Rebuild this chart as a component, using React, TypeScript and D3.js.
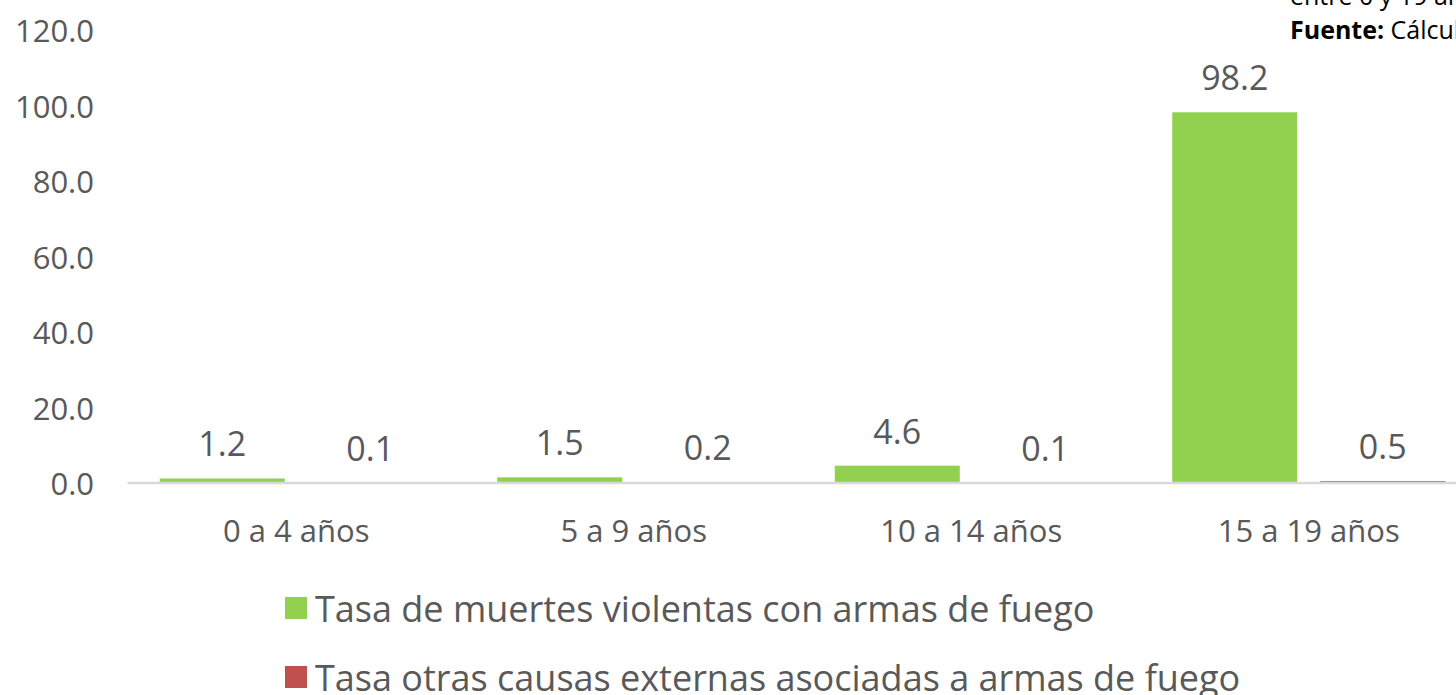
import { scaleBand, scaleLinear } from "d3";

const categories = ["0 a 4 años", "5 a 9 años", "10 a 14 años", "15 a 19 años"];
const seriesNames = [
  "Tasa de muertes violentas con armas de fuego",
  "Tasa otras causas externas asociadas a armas de fuego",
];
const firearmDeaths = [1.2, 1.5, 4.6, 98.2];
const otherCauses = [0.1, 0.2, 0.1, 0.5];
const yTicks = [0, 20, 40, 60, 80, 100, 120];

const colors = ["#92d050", "#c0504d"];
const textColor = "#595959";
const font = "'Open Sans', 'Noto Sans', sans-serif";

const WIDTH = 1456;
const HEIGHT = 695;
// plot area, chart runs off the right edge like the source
const PLOT = { left: 127.5, right: 1477.5, top: 30, bottom: 483 };

const App = () => {
  const series = [firearmDeaths, otherCauses];

  const xScale = scaleBand<string>()
    .domain(categories)
    .range([PLOT.left, PLOT.right])
    .padding(0);
  const innerScale = scaleBand<string>()
    .domain(["0", "1"])
    .range([0, xScale.bandwidth()])
    .paddingInner(0.155)
    .paddingOuter(0.218);
  const yScale = scaleLinear().domain([0, 120]).range([PLOT.bottom, PLOT.top]);

  return (
    <svg
      width={WIDTH}
      height={HEIGHT}
      style={{ position: "absolute", left: 0, top: 0, background: "#fff" }}
      fontFamily={font}
    >
      {/* source note, clipped at top/right */}
      <text x={1290} y={5} fontSize={25} fill="#000">
        entre 0 y 19 años
      </text>
      <text x={1290} y={39} fontSize={25} fill="#000">
        <tspan fontWeight="bold">Fuente:</tspan> Cálculos
      </text>

      {/* y axis labels */}
      {yTicks.map((t) => (
        <text
          key={t}
          x={94}
          y={yScale(t)}
          textAnchor="end"
          dominantBaseline="central"
          fontSize={31}
          fill={textColor}
        >
          {t.toFixed(1)}
        </text>
      ))}

      {/* bars + labels */}
      {series.map((vals, si) =>
        vals.map((v, ci) => {
          const x = (xScale(categories[ci]) ?? 0) + (innerScale(String(si)) ?? 0);
          const w = innerScale.bandwidth();
          const y = yScale(v);
          return (
            <g key={`${si}-${ci}`}>
              <rect
                x={x}
                y={y}
                width={w}
                height={yScale(0) - y}
                fill={colors[si]}
              />
              <text
                x={x + w / 2}
                y={y - 35}
                textAnchor="middle"
                dominantBaseline="central"
                fontSize={34}
                fill={textColor}
              >
                {v.toFixed(1)}
              </text>
            </g>
          );
        })
      )}

      {/* baseline drawn over the bars */}
      <line
        x1={PLOT.left}
        x2={WIDTH}
        y1={yScale(0)}
        y2={yScale(0)}
        stroke="#d9d9d9"
        strokeWidth={2.5}
      />

      {/* category labels */}
      {categories.map((c) => (
        <text
          key={c}
          x={(xScale(c) ?? 0) + xScale.bandwidth() / 2}
          y={530}
          textAnchor="middle"
          dominantBaseline="central"
          fontSize={31}
          fill={textColor}
        >
          {c}
        </text>
      ))}

      {/* legend */}
      {seriesNames.map((name, i) => (
        <g key={name} transform={`translate(285, ${608 + i * 69})`}>
          <rect x={0} y={-11} width={22} height={22} fill={colors[i]} />
          <text
            x={30}
            y={0}
            dominantBaseline="central"
            fontSize={36}
            fill={textColor}
          >
            {name}
          </text>
        </g>
      ))}
    </svg>
  );
};

export default App;
